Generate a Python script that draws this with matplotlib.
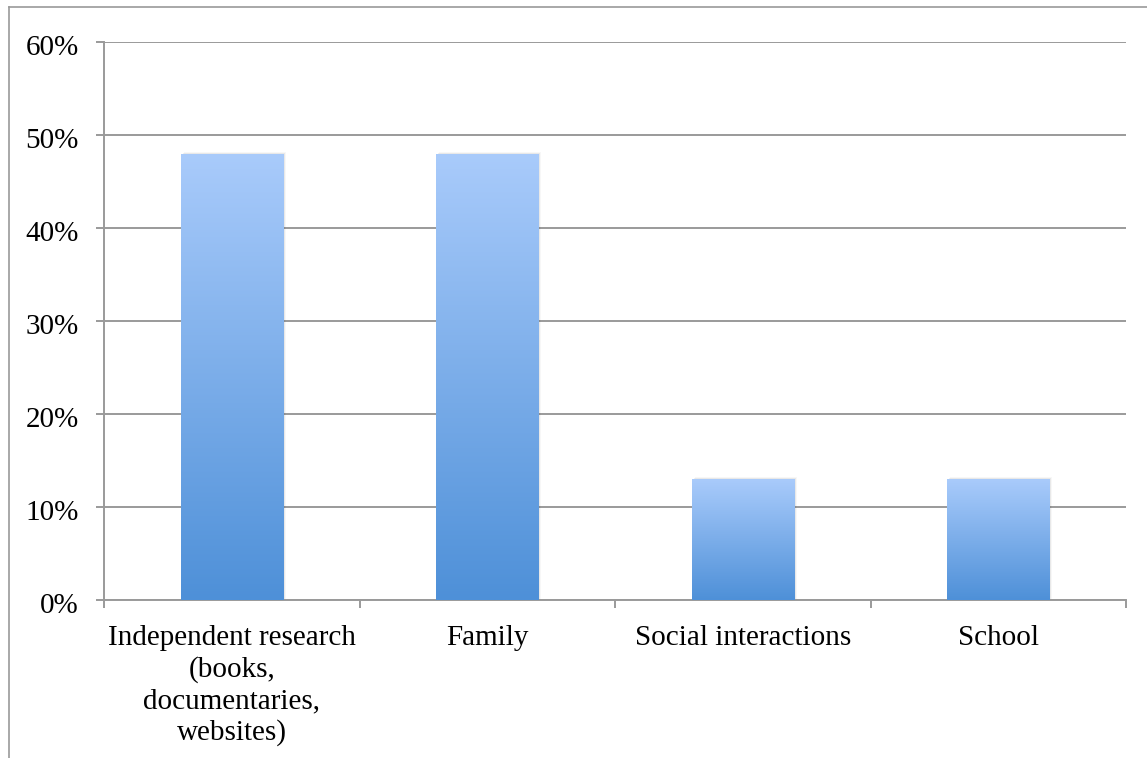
import matplotlib
matplotlib.use("Agg")
import matplotlib.pyplot as plt
import numpy as np
from matplotlib.colors import LinearSegmentedColormap
from matplotlib.lines import Line2D
from matplotlib.patches import Rectangle
from matplotlib.transforms import ScaledTranslation

# ------------------------------------
# Data
# ------------------------------------
categories = ["Independent research\n(books,\ndocumentaries,\nwebsites)",
              "Family", "Social interactions", "School"]
shares = [0.48, 0.48, 0.13, 0.13]
y_ticks = [0.0, 0.1, 0.2, 0.3, 0.4, 0.5, 0.6]

GRID = "#9a9a9a"
TOP_BLUE = "#a9cbfb"
BOTTOM_BLUE = "#4e90d8"
BAR_WIDTH = 0.4

plt.rcParams["font.family"] = ["Liberation Serif", "DejaVu Serif"]

fig = plt.figure(figsize=(11.47, 7.58), dpi=100)
ax = fig.add_axes([104 / 1147, 1 - 600 / 758, (1126 - 104) / 1147, (600 - 42) / 758])

# outer chart frame (clipped by the image on right / bottom)
fig.add_artist(Line2D([9 / 1147, 1.0], [1 - 7 / 758] * 2,
                      transform=fig.transFigure, color=GRID, lw=1.2))
fig.add_artist(Line2D([9 / 1147] * 2, [0.0, 1 - 7 / 758],
                      transform=fig.transFigure, color=GRID, lw=1.2))

# gridlines
for t in y_ticks:
    ax.axhline(t, color=GRID, lw=1.4, zorder=1)

gradient = LinearSegmentedColormap.from_list("bar", [BOTTOM_BLUE, TOP_BLUE])
grad = np.linspace(0, 1, 256).reshape(-1, 1)
x = np.arange(len(categories))
bars = ax.bar(x, shares, width=BAR_WIDTH, color="none", zorder=3)
for bar in bars:
    x0, w, h = bar.get_x(), bar.get_width(), bar.get_height()
    # soft shadow on the right
    for k, a in enumerate([0.10, 0.06, 0.03]):
        ax.add_patch(Rectangle((x0 + 0.004 * (k + 1), 0), w, h + 0.001 * k,
                               color="black", alpha=a, lw=0, zorder=2))
    im = ax.imshow(grad, cmap=gradient, origin="lower", aspect="auto",
                   extent=(x0, x0 + w, 0, h), zorder=3)
    im.set_clip_path(bar)
ax.set_xlim(-0.5, len(categories) - 0.5)
ax.set_ylim(0, 0.6)

ax.set_yticks(y_ticks)
ax.set_yticklabels([f"{t:.0%}" for t in y_ticks])
ax.set_xticks(x)
ax.set_xticklabels(categories, linespacing=1.25)
ax.set_xticks(np.arange(-0.5, len(categories)), minor=True)
ax.tick_params(axis="x", which="major", length=0, pad=18, labelsize=21)
ax.tick_params(axis="x", which="minor", length=6, width=1.4, color=GRID)
ax.tick_params(axis="y", length=6, width=1.4, color=GRID, pad=12, labelsize=21)

# Excel puts the percentage labels a touch below their gridline
shift = ScaledTranslation(0, -3 / 100, fig.dpi_scale_trans)
for lbl in ax.get_yticklabels():
    lbl.set_transform(lbl.get_transform() + shift)

for side in ("top", "right"):
    ax.spines[side].set_visible(False)
for side in ("left", "bottom"):
    ax.spines[side].set_color(GRID)
    ax.spines[side].set_linewidth(1.4)

fig.savefig("out.png", dpi=100)
